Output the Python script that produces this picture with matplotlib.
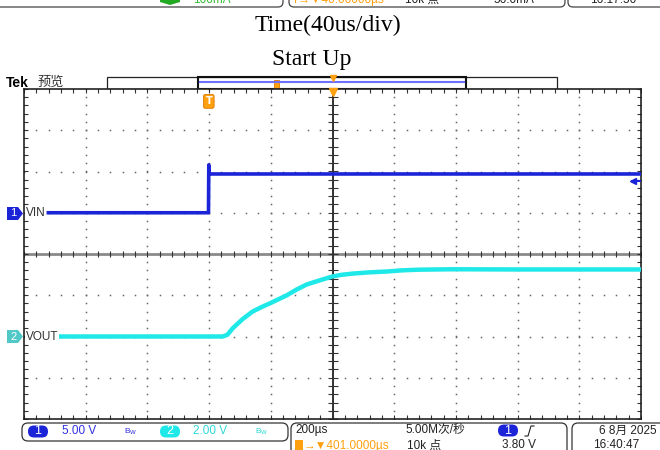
import matplotlib
matplotlib.use("Agg")
import matplotlib.pyplot as plt
import numpy as np
from matplotlib.patches import Rectangle, FancyBboxPatch, Polygon

# --- scope settings ---
ch1_scale = 5.0      # V/div
ch2_scale = 2.0      # V/div
ch1_offset = 1.0     # div (ground marker position)
ch2_offset = -2.0
t_per_div = 200.0    # us/div
t_center = 401.0     # us, horizontal position
trig_level = 3.80    # V on CH1

# --- traces (time in us relative to trigger, volts) ---
vin_t = [-520, -1, 0, 0.5, 3, 1401]
vin_v = [0.0, 0.0, 5.8, 4.7, 4.7, 4.7]

vout_t = [-520, 45, 60, 77, 110, 142, 170, 197, 225, 252, 285, 317, 359, 401,
          430, 466, 520, 576, 630, 683, 790, 1000, 1401]
vout_v = [0.0, 0.0, 0.08, 0.39, 0.85, 1.21, 1.42, 1.60, 1.80, 1.99, 2.28, 2.52, 2.72, 2.91,
          2.99, 3.05, 3.11, 3.15, 3.21, 3.24, 3.26, 3.25, 3.25]

BLUE = "#1c24d8"
CYAN = "#1ee8e8"
ORANGE = "#ffa010"
SANS = ["Liberation Sans", "Noto Sans CJK SC"]


def tx(t):
    return 5 + (np.asarray(t) - t_center) / t_per_div


fig = plt.figure(figsize=(6.6, 4.5), dpi=100)

# full-figure overlay in pixel coordinates
bg = fig.add_axes([0, 0, 1, 1])
bg.set_xlim(0, 660)
bg.set_ylim(450, 0)
bg.axis("off")

# --- cropped info bar of a previous capture at the very top ---
for x0, x1 in [(-10, 283), (289, 565), (568, 680)]:
    bg.add_patch(FancyBboxPatch((x0, -20), x1 - x0, 27, boxstyle="round,pad=0,rounding_size=5",
                                fc="none", ec="#444444", lw=0.9))
bg.add_patch(Polygon([(160, -5), (180, -5), (180, 2), (170, 5), (160, 2)], closed=True, fc="#22aa22", ec="none"))
bg.text(193, 0, "100mA", color="#33bb33", fontsize=8.5, family=SANS, va="center")
bg.text(292, 0, "T\u2192\u25bc40.00000\u00b5s", color=ORANGE, fontsize=8.5, family=SANS, va="center")
bg.text(405, 0, "10k 点", color="#222222", fontsize=8.5, family=SANS, va="center")
bg.text(493, 0, "56.0mA", color="#222222", fontsize=8.5, family=SANS, va="center")
bg.text(590, 0, "16:17:50", color="#222222", fontsize=8.5, family=SANS, va="center")

# --- titles ---
bg.text(328, 25, "Time(40us/div)", fontsize=17, family="Liberation Serif", ha="center", va="center")
bg.text(312, 60, "Start Up", fontsize=17, family="Liberation Serif", ha="center", va="center")

# --- Tek header and record bar ---
bg.text(6, 83, "Tek", fontsize=10, weight="bold", family=SANS, va="center")
bg.text(38, 83, "预览", fontsize=9.5, family=SANS, va="center", color="#333333")
bg.add_patch(Rectangle((107, 76.5), 450, 12.5, fc="white", ec="#222222", lw=0.9))
bg.add_patch(Rectangle((198, 76.5), 268, 12.5, fc="none", ec="#111111", lw=1.5))
bg.plot([200, 464], [82, 82], color="#7070ff", lw=1.5)
bg.add_patch(Rectangle((274, 79.5), 5, 8, fc=ORANGE, ec="#e07800", lw=0.6))
bg.plot([333], [78], marker="v", color=ORANGE, ms=5)

# --- channel tags on the left ---
bg.add_patch(Polygon([(7, 207), (18, 207), (23, 213.5), (18, 220), (7, 220)], closed=True, fc=BLUE, ec="none"))
bg.text(13.5, 213.5, "1", color="white", fontsize=8, family=SANS, ha="center", va="center")
bg.add_patch(Polygon([(7, 330), (18, 330), (23, 336.5), (18, 343), (7, 343)], closed=True, fc="#50c8c8", ec="none"))
bg.text(13.5, 336.5, "2", color="white", fontsize=8, family=SANS, ha="center", va="center")

# --- bottom info bar ---
bg.add_patch(FancyBboxPatch((22, 423), 266, 18, boxstyle="round,pad=0,rounding_size=6",
                            fc="none", ec="#333333", lw=0.9))
bg.add_patch(FancyBboxPatch((291, 423), 276, 40, boxstyle="round,pad=0,rounding_size=6",
                            fc="none", ec="#333333", lw=0.9))
bg.add_patch(FancyBboxPatch((572, 423), 110, 40, boxstyle="round,pad=0,rounding_size=6",
                            fc="none", ec="#333333", lw=0.9))
bg.add_patch(FancyBboxPatch((28, 425.5), 20, 12, boxstyle="round,pad=0,rounding_size=6", fc=BLUE, ec="none"))
bg.text(38, 431.5, "1", color="white", fontsize=9, family=SANS, ha="center", va="center")
bg.text(62, 431.5, "5.00 V", color="#3030e0", fontsize=8.5, family=SANS, va="center")
bg.text(124, 431.5, "B$_\\mathrm{W}$", color="#3030e0", fontsize=6, family=SANS, va="center")
bg.add_patch(FancyBboxPatch((160, 425.5), 20, 12, boxstyle="round,pad=0,rounding_size=6", fc=CYAN, ec="none"))
bg.text(170, 431.5, "2", color="white", fontsize=9, family=SANS, ha="center", va="center")
bg.text(193, 431.5, "2.00 V", color="#30d8d8", fontsize=8.5, family=SANS, va="center")
bg.text(255, 431.5, "B$_\\mathrm{W}$", color="#30d8d8", fontsize=6, family=SANS, va="center")

bg.text(295, 430.5, "200\u00b5s", color="#222222", fontsize=8.5, family=SANS, va="center")
bg.text(405, 430.5, "5.00M次/秒", color="#222222", fontsize=8.5, family=SANS, va="center")
bg.add_patch(FancyBboxPatch((498, 424.5), 20, 12, boxstyle="round,pad=0,rounding_size=6", fc=BLUE, ec="none"))
bg.text(508, 430.5, "1", color="white", fontsize=9, family=SANS, ha="center", va="center")
bg.plot([525, 528, 531, 534], [436, 436, 426, 426], color="#222222", lw=0.8)
bg.add_patch(Rectangle((295, 440), 8, 10, fc=ORANGE, ec="none"))
bg.text(304, 445.5, "\u2192\u25bc401.0000\u00b5s", color=ORANGE, fontsize=8.5, family=SANS, va="center")
bg.text(407, 445.5, "10k 点", color="#222222", fontsize=8.5, family=SANS, va="center")
bg.text(502, 445.5, "3.80 V", color="#222222", fontsize=8.5, family=SANS, va="center")
bg.text(657, 430.5, "6 8月 2025", color="#222222", fontsize=8.5, family=SANS, va="center", ha="right")
bg.text(593, 445.5, "16:40:47", color="#222222", fontsize=8.5, family=SANS, va="center")

# --- scope screen ---
ax = fig.add_axes([24 / 660, 1 - 419 / 450, (641 - 24) / 660, (419 - 89) / 450])
ax.set_xlim(0, 10)
ax.set_ylim(-4, 4)
ax.set_xticks([])
ax.set_yticks([])
for s in ax.spines.values():
    s.set_color("#222222")
    s.set_linewidth(1.2)

# dotted graticule
minor_x = np.arange(0, 10.01, 0.2)
minor_y = np.arange(-4, 4.01, 0.2)
for i in range(1, 10):
    if i != 5:
        ax.plot(np.full_like(minor_y, i), minor_y, ls="none", marker="s", ms=1.1, color="#666666", mew=0)
for j in range(-3, 4):
    if j != 0:
        ax.plot(minor_x, np.full_like(minor_x, j), ls="none", marker="s", ms=1.1, color="#666666", mew=0)

# center cross with ticks
ax.axhline(0, color="#8a8a8a", lw=2)
ax.axvline(5, color="#222222", lw=1.3)
ax.plot(minor_x, np.zeros_like(minor_x), ls="none", marker="|", ms=5, color="#333333", mew=0.8)
ax.plot(np.full_like(minor_y, 5), minor_y, ls="none", marker="_", ms=7, color="#333333", mew=0.8)
# edge ticks
ax.plot(minor_x, np.full_like(minor_x, 4), ls="none", marker="|", ms=6, color="#333333", mew=0.8)
ax.plot(minor_x, np.full_like(minor_x, -4), ls="none", marker="|", ms=6, color="#333333", mew=0.8)
ax.plot(np.zeros_like(minor_y), minor_y, ls="none", marker="_", ms=6, color="#333333", mew=0.8)
ax.plot(np.full_like(minor_y, 10), minor_y, ls="none", marker="_", ms=6, color="#333333", mew=0.8)

# traces
ax.plot(tx(vin_t), np.asarray(vin_v) / ch1_scale + ch1_offset, color=BLUE, lw=2.6, zorder=5,
        solid_joinstyle="round")
ax.plot(tx(vout_t), np.asarray(vout_v) / ch2_scale + ch2_offset, color=CYAN, lw=3.2, zorder=5,
        solid_joinstyle="round")

# trace labels
ax.text(0.03, ch1_offset, "VIN", fontsize=8.5, family=SANS, color="#333333", va="center", zorder=6,
        bbox=dict(fc="white", ec="none", pad=0.5))
ax.text(0.03, ch2_offset, "VOUT", fontsize=8.5, family=SANS, color="#333333", va="center", zorder=6,
        bbox=dict(fc="white", ec="none", pad=0.5))

# trigger markers
ax.text(tx(0), 3.7, "T", fontsize=7, color="white", weight="bold", ha="center", va="center", zorder=7,
        bbox=dict(boxstyle="round,pad=0.2", fc=ORANGE, ec="#e07800", lw=0.6))
ax.plot([5], [3.93], marker="v", color=ORANGE, ms=6, clip_on=False, zorder=7)
lvl = trig_level / ch1_scale + ch1_offset
ax.plot([9.86, 10], [lvl, lvl], color=BLUE, lw=1.5, zorder=7)
ax.plot([9.87], [lvl], marker="<", color=BLUE, ms=5, zorder=7)

fig.savefig("out.png", dpi=100)
